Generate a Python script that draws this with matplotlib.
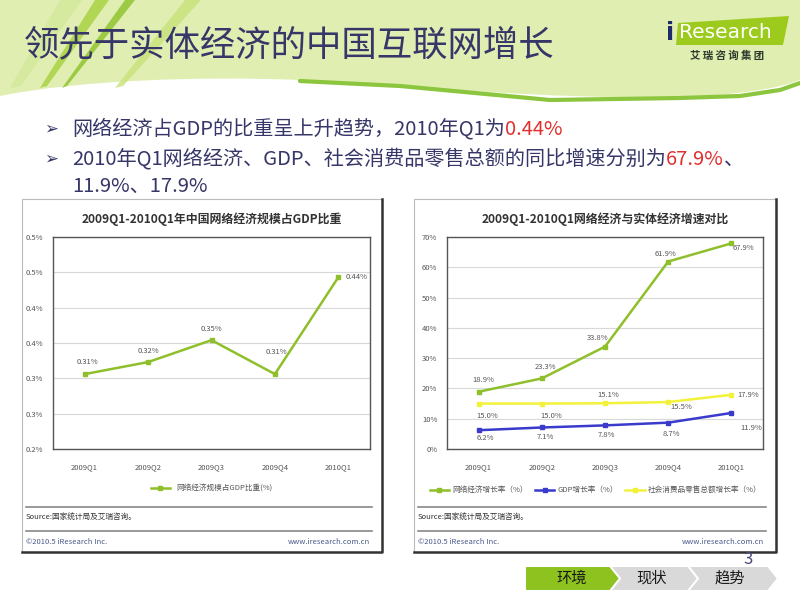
import numpy as np
import matplotlib
matplotlib.use('Agg')
import matplotlib.pyplot as plt
from matplotlib.path import Path
from matplotlib.patches import PathPatch, Polygon, Rectangle

plt.rcParams['font.family'] = ['Noto Sans CJK SC', 'DejaVu Sans']

# ---- data ----
quarters = ['2009Q1', '2009Q2', '2009Q3', '2009Q4', '2010Q1']
share = [0.306, 0.323, 0.354, 0.306, 0.443]          # 网络经济规模占GDP比重 (%)
share_labels = ['0.31%', '0.32%', '0.35%', '0.31%', '0.44%']
share_ticks = [0.20, 0.25, 0.30, 0.35, 0.40, 0.45, 0.50]
share_ticklabels = ['0.2%', '0.3%', '0.3%', '0.4%', '0.4%', '0.5%', '0.5%']

net_growth = [18.9, 23.3, 33.8, 61.9, 67.9]   # 网络经济增长率
gdp_growth = [6.2, 7.1, 7.8, 8.7, 11.9]       # GDP增长率
retail_growth = [15.0, 15.0, 15.1, 15.5, 17.9]  # 社会消费品零售总额增长率
growth_ticks = [0, 10, 20, 30, 40, 50, 60, 70]

GREEN = '#8FBF2A'
BLUE = '#3A3ACC'
YELLOW = '#F2F23A'
TXT = '#363668'
SMALL = '#555555'

fig = plt.figure(figsize=(8, 6), dpi=100)
bg = fig.add_axes([0, 0, 1, 1])
bg.set_xlim(0, 800)
bg.set_ylim(600, 0)
bg.axis('off')

# header swoosh
verts = [(0, 96), (80, 80), (200, 76), (300, 80),
         (400, 85), (550, 100), (680, 97),
         (740, 95), (780, 88), (800, 80),
         (800, 0), (0, 0), (0, 96)]
codes = [Path.MOVETO] + [Path.CURVE4] * 9 + [Path.LINETO] * 3
bg.add_patch(PathPatch(Path(verts, codes), facecolor='#E1EEB2', edgecolor='none'))
band = [(300, 81), (400, 86), (550, 100), (680, 98),
        (740, 96), (780, 90), (800, 83)]
bx, by = zip(*band)
bg.plot(bx, by, color='#8CC63F', lw=3, solid_capstyle='round')
# leaf strokes on the left
for (x_top, x_bot, w, c) in [(60, 10, 22, '#D3E99A'), (95, 40, 14, '#A6D13C'),
                             (125, 62, 10, '#8CC22A'), (185, 115, 16, '#C8E27A')]:
    leaf = [(x_top, 0), (x_top + w, 0), (x_bot + w * 0.5, 86), (x_bot, 88)]
    bg.add_patch(Polygon(leaf, closed=True, facecolor=c, edgecolor='none', alpha=0.8))

bg.text(24, 45, '领先于实体经济的中国互联网增长', fontsize=25.5, color=TXT,
        va='center', ha='left')

# logo
bg.add_patch(Polygon([(678, 23), (789, 16), (783, 45), (676, 45)], closed=True,
                     facecolor='#9CCB1E', edgecolor='none'))
bg.text(666, 33, 'i', fontsize=17, color='#1F2A6B', fontweight='bold', va='center',
        family='DejaVu Sans')
bg.text(679, 33, 'Research', fontsize=14.5, color='white', va='center',
        family='DejaVu Sans')
bg.text(727, 56, '艾 瑞 咨 询 集 团', fontsize=7.5, color='#2B3A2B', va='center',
        ha='center', fontweight='bold')

# bullets
lines_y = [129, 159, 186]
for yy in lines_y[:2]:
    bg.text(44, yy, '➢', fontsize=12, color=TXT, va='center', family='DejaVu Sans')
t1 = bg.text(72, lines_y[0], '网络经济占GDP的比重呈上升趋势，2010年Q1为', fontsize=14.5,
             color=TXT, va='center')
bg.annotate('0.44%', xy=(1, 0), xycoords=t1, va='bottom', fontsize=14.5, color='#E03030')
t2 = bg.text(72, lines_y[1], '2010年Q1网络经济、GDP、社会消费品零售总额的同比增速分别为',
             fontsize=14.5, color=TXT, va='center')
t3 = bg.annotate('67.9%', xy=(1, 0), xycoords=t2, va='bottom', fontsize=14.5, color='#E03030')
bg.annotate('、', xy=(1, 0), xycoords=t3, va='bottom', fontsize=14.5, color=TXT)
bg.text(72, lines_y[2], '11.9%、17.9%', fontsize=14.5, color=TXT, va='center')

# chart boxes
for (x0, x1) in [(22, 382), (414, 776)]:
    bg.add_patch(Rectangle((x0, 199), x1 - x0, 353, facecolor='white',
                           edgecolor='#BBBBBB', lw=0.8))
    bg.plot([x1, x1, x0], [199, 552, 552], color='#333333', lw=1.8)
    bg.plot([x0 + 4, x1 - 10], [507, 507], color='#888888', lw=1.2)
    bg.plot([x0 + 4, x1 - 10], [531, 531], color='#888888', lw=1.2)
    bg.text(x0 + 4, 518, 'Source:国家统计局及艾瑞咨询。', fontsize=5.5, color='#333333',
            va='center')
    bg.text(x0 + 4, 542, '©2010.5 iResearch Inc.', fontsize=5.5, color='#4A5A8A',
            va='center')
    bg.text(x1 - 12, 542, 'www.iresearch.com.cn', fontsize=5.5, color='#4A5A8A',
            va='center', ha='right')


def px_axes(x0, y0, x1, y1):
    return fig.add_axes([x0 / 800, 1 - y1 / 600, (x1 - x0) / 800, (y1 - y0) / 600])


def style(ax):
    for s in ax.spines.values():
        s.set_color('#555555')
        s.set_linewidth(1.0)
    ax.grid(axis='y', color='#D8D8D8', lw=0.8)
    ax.set_axisbelow(True)
    ax.tick_params(length=0, labelsize=5.5, labelcolor=SMALL)
    ax.tick_params(axis='y', pad=7)
    ax.tick_params(axis='x', pad=10)
    ax.set_xlim(-0.5, 4.5)


x = np.arange(len(quarters))

# left chart
ax1 = px_axes(53, 237, 370, 449)
style(ax1)
ax1.plot(x, share, color=GREEN, lw=1.8, marker='s', ms=3.5, label='网络经济规模占GDP比重(%)')
ax1.set_ylim(0.2, 0.5)
ax1.set_yticks(share_ticks)
ax1.set_yticklabels(share_ticklabels)
ax1.set_xticks(x)
ax1.set_xticklabels(quarters)
offs1 = [(3, 12), (0, 11), (0, 11), (2, 22), (18, 0)]
for i, (v, t) in enumerate(zip(share, share_labels)):
    ax1.annotate(t, (x[i], v), xytext=offs1[i], textcoords='offset pixels',
                 ha='center', va='center', fontsize=5.5, color=SMALL)
ax1.set_title('2009Q1-2010Q1年中国网络经济规模占GDP比重', fontsize=8.6, fontweight='bold',
              color='#333333', pad=10)
ax1.legend(loc='center', bbox_to_anchor=(0.5, -0.185), frameon=False, fontsize=5.5,
           handlelength=2.5, labelcolor=SMALL)

# right chart
ax2 = px_axes(447, 237, 763, 449)
style(ax2)
ax2.plot(x, net_growth, color=GREEN, lw=1.8, marker='s', ms=3.5, label='网络经济增长率（%）')
ax2.plot(x, gdp_growth, color=BLUE, lw=1.8, marker='s', ms=3.5, label='GDP增长率（%）')
ax2.plot(x, retail_growth, color=YELLOW, lw=1.8, marker='s', ms=3.5,
         label='社会消费品零售总额增长率（%）')
ax2.set_ylim(0, 70)
ax2.set_yticks(growth_ticks)
ax2.set_yticklabels([f'{v}%' for v in growth_ticks])
ax2.set_xticks(x)
ax2.set_xticklabels(quarters)
offs_net = [(5, 12), (4, 11), (-7, 9), (-3, 8), (12, -5)]
offs_gdp = [(7, -8), (4, -10), (1, -10), (3, -11), (20, -15)]
offs_ret = [(9, -12), (9, -12), (3, 8), (13, -5), (17, 0)]
for series, offs in [(net_growth, offs_net), (gdp_growth, offs_gdp), (retail_growth, offs_ret)]:
    for i, v in enumerate(series):
        ax2.annotate(f'{v:.1f}%', (x[i], v), xytext=offs[i], textcoords='offset pixels',
                     ha='center', va='center', fontsize=5.5, color=SMALL)
ax2.set_title('2009Q1-2010Q1网络经济与实体经济增速对比', fontsize=8.6, fontweight='bold',
              color='#333333', pad=10)
ax2.legend(loc='center', bbox_to_anchor=(0.47, -0.195), frameon=False, fontsize=5.5,
           ncol=3, handlelength=2.5, columnspacing=1.0, handletextpad=0.4, labelcolor=SMALL)

# bottom navigation
navs = [(683, '#D9D9D9', '趋势', 730), (603, '#D9D9D9', '现状', 652), (525, '#8DC21F', '环境', 572)]
for x0, c, t, tx in navs:
    pts = [(x0, 566), (x0 + 85, 566), (x0 + 95, 578.5), (x0 + 85, 591), (x0, 591)]
    if x0 != 525:
        pts.append((x0 + 10, 578.5))
    bg.add_patch(Polygon(pts, closed=True, facecolor=c, edgecolor='white', lw=1.5))
    bg.text(tx, 578.5, t, fontsize=11, color='#1A1A1A', ha='center', va='center')
bg.text(748, 559, '3', fontsize=12, color='#4A4A7A', ha='center', va='center')

fig.savefig('out.png', dpi=100)
